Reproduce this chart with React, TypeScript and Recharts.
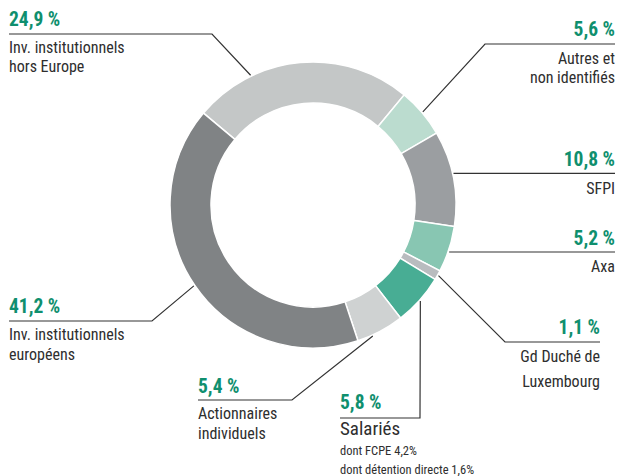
import React from 'react';
import { PieChart, Pie, Cell } from 'recharts';

// shareholders, in ring order (clockwise from the top-left)
const categories = [
  'Inv. institutionnels hors Europe',
  'Autres et non identifiés',
  'SFPI',
  'Axa',
  'Gd Duché de Luxembourg',
  'Salariés',
  'Actionnaires individuels',
  'Inv. institutionnels européens',
];
const shares = [24.9, 5.6, 10.8, 5.2, 1.1, 5.8, 5.4, 41.2];
const labelLines = [
  ['Inv. institutionnels', 'hors Europe'],
  ['Autres et', 'non identifiés'],
  ['SFPI'],
  ['Axa'],
  ['Gd Duché de', 'Luxembourg'],
  ['Salariés'],
  ['Actionnaires', 'individuels'],
  ['Inv. institutionnels', 'européens'],
];
const noteLines = [[], [], [], [], [], ['dont FCPE 4,2%', 'dont détention directe 1,6%'], [], []];

const COLORS = ['#c4c7c7', '#bbdccf', '#9b9ea1', '#88c6b2', '#b9bcbf', '#48ad94', '#cfd2d2', '#808385'];
const GREEN = '#0f8f6e';
const INK = '#2e2e2e';
const FONT = '"Liberation Sans Narrow", "Arial Narrow", "Roboto Condensed", "Liberation Sans", sans-serif';

// annotation layout: where each leader line bends and where its text sits
const LAYOUT = [
  { shift: 20.5, elbow: [212, 34], endX: 9, anchor: 'start', pctY: 26, lineGap: 19, firstY: 53 },
  { shift: 0, elbow: [485, 44], endX: 615, anchor: 'end', pctY: 36, lineGap: 19, firstY: 64 },
  { shift: 1.9, elbow: null, endX: 615, anchor: 'end', pctY: 166, lineGap: 19, firstY: 194 },
  { shift: -1, elbow: null, endX: 615, anchor: 'end', pctY: 245, lineGap: 19, firstY: 272 },
  { shift: 0, elbow: [505, 342], endX: 600, anchor: 'end', pctY: 334, lineGap: 25, firstY: 362 },
  { shift: 0, elbow: [420, 418], endX: 340, anchor: 'start', pctY: 409, lineGap: 20, firstY: 435 },
  { shift: -3.5, elbow: [292, 400], endX: 198, anchor: 'start', pctY: 393, lineGap: 20, firstY: 419 },
  { shift: 0, elbow: [152, 321], endX: 9, anchor: 'start', pctY: 313, lineGap: 20, firstY: 340 },
];

const data = categories.map((name, i) => ({ name, value: shares[i] }));

const RAD = Math.PI / 180;

const renderLabel = (props: any) => {
  const { cx, cy, midAngle, outerRadius, index } = props;
  const l = LAYOUT[index];
  const a = (midAngle + l.shift) * RAD;
  const sx = cx + (outerRadius + 1) * Math.cos(-a);
  const sy = cy + (outerRadius + 1) * Math.sin(-a);
  const pts: number[][] = [[sx, sy]];
  let lineY = sy;
  if (l.elbow) {
    pts.push(l.elbow);
    lineY = l.elbow[1];
  }
  pts.push([l.endX, lineY]);
  const textX = l.endX;
  const pct = shares[index].toFixed(1).replace('.', ',') + ' %';
  const lines = labelLines[index];
  const notes = noteLines[index];
  return (
    <g key={`lbl-${index}`}>
      <polyline
        points={pts.map((p) => p.join(',')).join(' ')}
        fill="none"
        stroke="#333"
        strokeWidth={1.2}
      />
      <text x={textX} y={l.pctY} textAnchor={l.anchor} fill={GREEN} fontFamily={FONT} fontWeight="bold" fontSize={19.5}>
        {pct}
      </text>
      {lines.map((t, k) => (
        <text
          key={k}
          x={textX}
          y={l.firstY + k * l.lineGap}
          textAnchor={l.anchor}
          fill={INK}
          fontFamily={FONT}
          fontSize={index === 5 ? 19 : 16}
        >
          {t}
        </text>
      ))}
      {notes.map((t, k) => (
        <text
          key={`n${k}`}
          x={textX}
          y={455 + k * 19}
          textAnchor="start"
          fill={INK}
          fontFamily={FONT}
          fontSize={12.5}
        >
          {t}
        </text>
      ))}
    </g>
  );
};

export default function App() {
  return (
    <div style={{ position: 'absolute', left: 0, top: 0, width: 619, height: 476, background: '#fff' }}>
      <PieChart width={619} height={476} margin={{ top: 0, right: 0, bottom: 0, left: 0 }}>
        <Pie
          data={data}
          dataKey="value"
          nameKey="name"
          cx={313}
          cy={205}
          innerRadius={102}
          outerRadius={143}
          startAngle={140}
          endAngle={-220}
          stroke="#ffffff"
          strokeWidth={1.5}
          label={renderLabel}
          labelLine={false}
          isAnimationActive={false}
        >
          {data.map((entry, index) => (
            <Cell key={`cell-${index}`} fill={COLORS[index]} />
          ))}
        </Pie>
      </PieChart>
    </div>
  );
}
